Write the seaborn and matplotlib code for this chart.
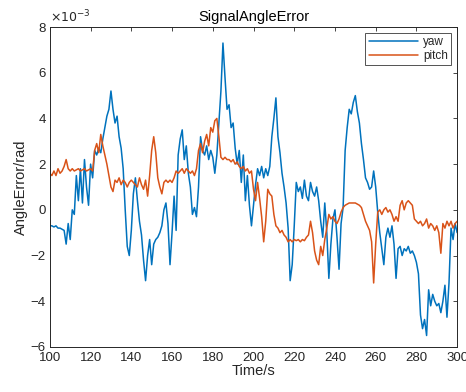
import numpy as np
import pandas as pd
import matplotlib
matplotlib.use("Agg")
import matplotlib.pyplot as plt
import seaborn as sns

time_s = list(range(100, 301))

yaw = [
    -0.7, -0.7, -0.75, -0.7, -0.8, -0.8, -0.85, -0.9, -1.5, -0.6,
    -1.3, 0.0, -0.2, 1.5, 0.4, 1.8, 0.3, 2.2, 1.0, 0.2,
    2.0, 1.4, 2.6, 2.4, 2.7, 2.5, 3.1, 3.6, 4.1, 4.4,
    5.2, 4.4, 3.8, 4.1, 3.2, 2.7, 1.8, 0.0, -1.6, -2.0,
    -0.9, 0.7, 1.4, 0.4, -0.5, -1.1, -2.2, -3.1, -2.0, -1.3,
    -2.4, -1.5, -1.3, -1.2, -1.0, -0.7, 0.0, 0.3, -0.6, -2.4,
    -1.0, 0.6, -0.9, 2.4, 3.1, 3.5, 2.2, 2.8, 1.6, 1.0,
    -0.2, 0.1, -0.3, 1.0, 3.2, 2.6, 2.4, 2.8, 2.2, 2.6,
    2.3, 1.6, 2.4, 3.8, 5.2, 7.3, 5.8, 4.4, 4.6, 3.6,
    3.8, 2.7, 2.0, 2.6, 1.2, 2.4, 0.4, 1.5, 0.2, -0.7,
    0.2, 1.1, 1.8, 1.5, 1.9, 1.4, 1.8, 1.5, 1.9, 3.2,
    4.0, 4.9, 3.2, 2.5, 1.6, 1.0, 0.3, -0.8, -3.1, -2.4,
    -0.7, 1.2, 0.8, 1.0, 0.5, 1.3, 0.6, 0.4, 1.2, 0.8,
    0.6, 1.0, 0.4, -0.5, -1.2, 0.3, -1.0, -3.0, -1.5, -0.4,
    0.0, -1.2, -2.6, -0.6, 0.1, 2.6, 3.6, 4.4, 4.2, 4.7,
    5.0, 4.3, 3.8, 2.9, 2.2, 1.4, 1.2, 0.9, 1.0, 1.7,
    1.0, -0.1, -1.0, -1.7, -2.4, -1.2, -0.8, -1.2, -0.7, -1.5,
    -3.0, -1.7, -1.6, -2.0, -1.7, -1.8, -1.6, -1.9, -1.8, -2.0,
    -2.3, -2.8, -4.6, -5.2, -4.8, -5.5, -3.5, -4.2, -3.7, -4.0,
    -4.2, -4.1, -4.5, -4.0, -3.3, -4.7, -3.2, -0.8, -1.3, -0.6,
    -1.0,
]

pitch = [
    1.6, 1.5, 1.7, 1.5, 1.8, 1.6, 1.7, 1.9, 2.2, 1.8,
    1.7, 1.8, 1.7, 1.75, 1.8, 1.7, 1.75, 1.8, 1.7, 1.75,
    1.8, 1.7, 2.6, 2.9, 2.5, 3.3, 2.8, 2.4, 2.0, 1.5,
    1.0, 0.8, 1.3, 1.2, 1.4, 1.1, 1.3, 1.2, 1.0, 1.2,
    1.3, 1.2, 1.1, 1.0, 1.4, 1.1, 0.9, 1.3, 0.6, 1.5,
    2.6, 3.2, 2.5, 1.4, 1.0, 0.7, 1.2, 1.3, 1.2, 1.3,
    1.2, 1.4, 1.7, 1.6, 1.7, 1.8, 1.6, 1.8, 1.7, 1.6,
    1.7, 1.5, 1.8, 2.6, 2.9, 2.5, 3.0, 3.3, 2.8, 3.6,
    3.4, 3.9, 4.0, 3.2, 2.3, 2.2, 2.3, 2.2, 2.2, 2.1,
    2.2, 2.0, 2.1, 1.9, 1.8, 1.9, 1.7, 1.8, 1.6, 1.7,
    0.9, 0.4, 1.2, 0.5, -0.3, -1.4, -0.5, 0.9, 0.7, 0.6,
    -0.2, -0.7, -0.8, -1.0, -0.9, -1.1, -1.2, -1.4, -1.3, -1.4,
    -1.3, -1.35, -1.3, -1.4, -1.3, -1.35, -1.2, -1.1, -0.5, -1.0,
    -1.8, -2.2, -2.4, -1.6, -2.0, -1.3, -0.8, -0.2, -0.4, -0.3,
    -0.5, -0.6, -0.4, -0.1, 0.1, 0.2, 0.25, 0.3, 0.3, 0.3,
    0.3, 0.25, 0.2, 0.1, -0.2, -0.5, -0.7, -0.9, -1.4, -3.2,
    -1.5, -0.1, 0.0, -0.2, 0.0, 0.1, -0.1, 0.0, -0.2, -0.5,
    -0.3, -0.5, 0.2, 0.4, 0.0, 0.3, 0.4, 0.3, 0.2, -0.4,
    -0.5, -0.6, -0.5, -0.7, -0.6, -0.4, -0.8, -0.6, -0.7, -0.9,
    -0.7, -1.0, -1.9, -0.6, -0.8, -0.5, -0.7, -0.5, -0.8, -0.6,
    -0.5,
]

x_ticks = [100, 120, 140, 160, 180, 200, 220, 240, 260, 280, 300]
y_ticks = [-6, -4, -2, 0, 2, 4, 6, 8]

sns.set_theme(style="white")
plt.rcParams['font.family'] = ['Liberation Sans', 'DejaVu Sans']

df = pd.DataFrame({
    "t": time_s * 2,
    "v": yaw + pitch,
    "series": ["yaw"] * len(yaw) + ["pitch"] * len(pitch),
})

fig = plt.figure(figsize=(4.66, 3.92), dpi=100)
ax = fig.add_axes([0.107, 0.115, 0.874, 0.816])

sns.lineplot(data=df, x="t", y="v", hue="series",
             palette={"yaw": "#0072BD", "pitch": "#D95319"},
             linewidth=1.1, ax=ax, legend=True)

ax.set_xlim(100, 300)
ax.set_ylim(-6, 8)
ax.set_xticks(x_ticks)
ax.set_yticks(y_ticks)
ax.tick_params(direction="in", top=True, right=True, length=3,
               labelsize=9.5, colors="#262626", width=0.6)
ax.tick_params(axis="x", pad=4)
ax.tick_params(axis="y", pad=3)
for s in ax.spines.values():
    s.set_visible(True)
    s.set_color("#262626")
    s.set_linewidth(0.7)

ax.set_xlabel("Time/s", fontsize=10.5, color="#262626", labelpad=0)
ax.set_ylabel("AngleError/rad", fontsize=10.5, color="#262626", labelpad=2)
ax.set_title("SignalAngleError", fontsize=10.5, color="#000000", pad=4)
ax.text(0.0, 1.005, r"$\times10^{-3}$", transform=ax.transAxes,
        fontsize=9, color="#262626", ha="left", va="bottom")

leg = ax.legend(loc="upper right", fontsize=8.5, frameon=True, fancybox=False,
                handlelength=4.2, borderpad=0.3, labelspacing=0.1,
                handletextpad=0.4, borderaxespad=0.5)
leg.get_frame().set_edgecolor("#262626")
leg.get_frame().set_linewidth(0.7)

fig.savefig("out.png", dpi=100)
